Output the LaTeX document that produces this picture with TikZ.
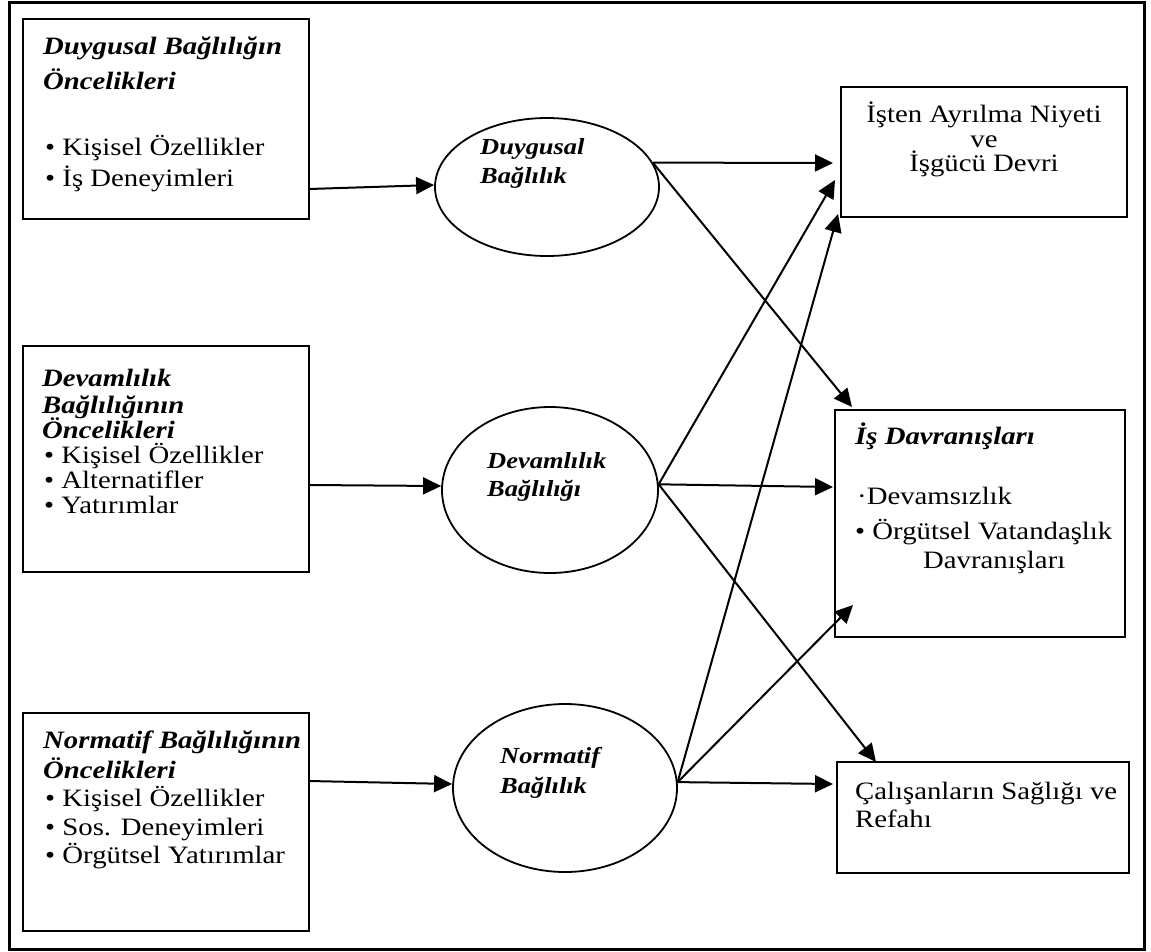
\documentclass[tikz,border=0pt]{standalone}
\usepackage{fontspec}
\setmainfont{Liberation Serif}[FakeStretch=1.15]
\usetikzlibrary{shapes.geometric,arrows.meta,calc}

\tikzset{
  frame/.style={line width=3pt},
  box/.style={draw, line width=2pt, inner sep=0pt, outer sep=0pt},
  bubble/.style={draw, ellipse, line width=1.8pt, inner sep=0pt},
  txt/.style={anchor=base west, inner sep=0pt, font=\fontsize{25}{27}\selectfont},
  ctxt/.style={txt, anchor=base},
  ttl/.style={txt, font=\fontsize{25}{27}\selectfont\bfseries\itshape},
  etxt/.style={anchor=base west, inner sep=0pt, font=\fontsize{23}{25}\selectfont\bfseries\itshape},
  link/.style={line width=2pt, -{Triangle[length=18pt,width=17pt]}},
}

\begin{document}
\begin{tikzpicture}[x=1pt,y=-1pt]
\useasboundingbox (0,0) rectangle (1151,951);
\draw[frame] (9.5,2) rectangle (1144.5,949.5);

% antecedent boxes
\node[box, minimum width=286pt, minimum height=200pt] (b1) at (166,119) {};
\node[box, minimum width=286pt, minimum height=226pt] (b2) at (166,459) {};
\node[box, minimum width=286pt, minimum height=218pt] (b3) at (166,822) {};

% commitment components
\node[bubble, minimum width=224pt, minimum height=138pt] (e1) at (547,187) {};
\node[bubble, minimum width=216pt, minimum height=166pt] (e2) at (550,490) {};
\node[bubble, minimum width=224pt, minimum height=168pt] (e3) at (565,788) {};

% outcome boxes
\node[box, minimum width=286pt, minimum height=130pt] (rA) at (984,152) {};
\node[box, minimum width=290pt, minimum height=227pt] (rB) at (980,523.5) {};
\node[box, minimum width=292pt, minimum height=111pt] (rC) at (983,817.5) {};

% box texts
\node[ttl] (b1a) at (43,54) {Duygusal Bağlılığın};
\node[ttl] (b1b) at (43,89) {Öncelikleri};
\node[txt] (b1c) at (45,155) {• Kişisel Özellikler};
\node[txt] (b1d) at (45,186) {• İş Deneyimleri};

\node[ttl] (b2a) at (42,386) {Devamlılık};
\node[ttl] (b2b) at (42,413) {Bağlılığının};
\node[ttl] (b2c) at (42,438) {Öncelikleri};
\node[txt] (b2d) at (44,463) {• Kişisel Özellikler};
\node[txt] (b2e) at (44,488) {• Alternatifler};
\node[txt] (b2f) at (44,513) {• Yatırımlar};

\node[ttl] (b3a) at (43,748) {Normatif Bağlılığının};
\node[ttl] (b3b) at (43,778) {Öncelikleri};
\node[txt] (b3c) at (45,806) {• Kişisel Özellikler};
\node[txt] (b3d) at (45,835) {• Sos. Deneyimleri};
\node[txt] (b3e) at (45,863) {• Örgütsel Yatırımlar};

\node[etxt] (e1a) at (480,154) {Duygusal};
\node[etxt] (e1b) at (480,183) {Bağlılık};
\node[etxt] (e2a) at (487,468) {Devamlılık};
\node[etxt] (e2b) at (487,496) {Bağlılığı};
\node[etxt] (e3a) at (500,763) {Normatif};
\node[etxt] (e3b) at (500,793) {Bağlılık};

\node[ctxt] (rAa) at (984,122) {İşten Ayrılma Niyeti};
\node[ctxt] (rAb) at (984,147) {ve};
\node[ctxt] (rAc) at (984,171) {İşgücü Devri};

\node[ttl] (rBa) at (855,444) {İş Davranışları};
\node[txt] (rBb) at (857,504) {·Devamsızlık};
\node[txt] (rBc) at (855,539) {• Örgütsel Vatandaşlık};
\node[txt] (rBd) at (923,568) {Davranışları};

\node[txt] (rCa) at (855,799) {Çalışanların Sağlığı ve};
\node[txt] (rCb) at (855,827) {Refahı};

% arrow tips near the outcome boxes
\coordinate (tA1) at (833,163);
\coordinate (tA2) at (835,180);
\coordinate (tA3) at (838,214);
\coordinate (tB1) at (852,407);
\coordinate (tB2) at (833,487);
\coordinate (tB3) at (853,605);
\coordinate (tC1) at (876,762);
\coordinate (tC2) at (833,784);

% antecedents -> components
\draw[link] (b1.east |- 0,189) -- (e1.west |- 0,185);
\draw[link] (b2.east |- 0,485) -- (e2.west |- 0,486);
\draw[link] (b3.east |- 0,781) -- (e3.west |- 0,784);

% components -> outcomes
\draw[link] (e1.13) -- (tA1);
\draw[link] (e1.13) -- (tB1);
\draw[link] (e2.3) -- (tA2);
\draw[link] (e2.3) -- (tB2);
\draw[link] (e2.3) -- (tC1);
\draw[link] (e3.3) -- (tA3);
\draw[link] (e3.3) -- (tB3);
\draw[link] (e3.3) -- (tC2);
\end{tikzpicture}
\end{document}
